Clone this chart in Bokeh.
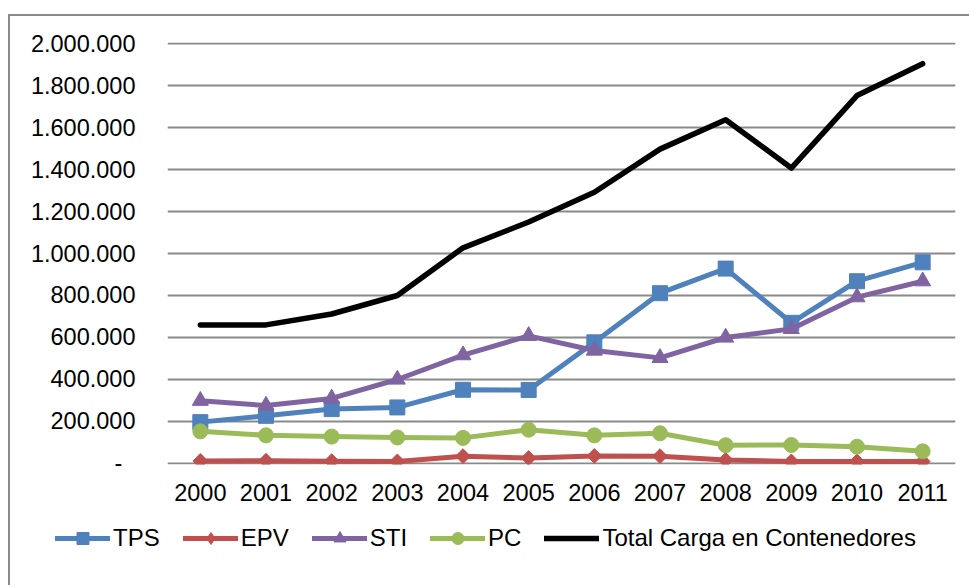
from bokeh.plotting import figure
from bokeh.models import FactorRange, Range1d, FixedTicker, Legend, LegendItem
from bokeh.embed import file_html
from bokeh.resources import INLINE

years = ["2000", "2001", "2002", "2003", "2004", "2005", "2006", "2007", "2008", "2009", "2010", "2011"]
tps = [197000, 227000, 259000, 267000, 351000, 350000, 577000, 811000, 928000, 670000, 868000, 958000]
epv = [12000, 13000, 11000, 10000, 35000, 26000, 36000, 35000, 17000, 10000, 10000, 10000]
sti = [299000, 276000, 310000, 400000, 516000, 608000, 538000, 503000, 600000, 641000, 792000, 868000]
pc = [153000, 134000, 128000, 124000, 122000, 161000, 134000, 144000, 87000, 88000, 80000, 58000]
total = [660000, 660000, 712000, 800000, 1027000, 1150000, 1292000, 1497000, 1637000, 1407000, 1752000, 1904000]

tick_values = [0, 200000, 400000, 600000, 800000, 1000000, 1200000, 1400000, 1600000, 1800000, 2000000]
tick_labels = ["-\u00a0\u00a0", "200.000", "400.000", "600.000", "800.000", "1.000.000",
               "1.200.000", "1.400.000", "1.600.000", "1.800.000", "2.000.000"]

FONT = "Liberation Sans"
FS = "23.5px"
BORDER = "2px solid #8a8a8a"

p = figure(width=961, height=494, output_backend="svg", toolbar_location=None,
           x_range=FactorRange(factors=years), y_range=Range1d(-4770, 2004770),
           min_border_left=157, min_border_right=16, min_border_top=26, min_border_bottom=46,
           margin=(14, 0, 0, 8), styles={"border-top": BORDER, "border-left": BORDER})
p.outline_line_color = None
p.background_fill_color = "white"
p.border_fill_color = "white"

p.xgrid.visible = False
p.ygrid.grid_line_color = "#8a8a8a"
p.ygrid.grid_line_width = 1.8
p.yaxis.ticker = FixedTicker(ticks=tick_values)
p.yaxis.major_label_overrides = {v: l for v, l in zip(tick_values, tick_labels)}

for ax in (p.xaxis[0], p.yaxis[0]):
    ax.axis_line_color = None
    ax.major_tick_line_color = None
    ax.minor_tick_line_color = None
    ax.major_label_text_font = FONT
    ax.major_label_text_font_size = FS
    ax.major_label_text_color = "black"
p.yaxis.major_label_standoff = 26
p.xaxis.major_label_standoff = 13

# name, values, colour, marker, size, angle, legend marker, legend size
series = [
    ("TPS", tps, "#4F81BD", "square", 15, 0.0, "square", 15),
    ("EPV", epv, "#C0504D", "square", 10.5, 0.785398, "diamond", 18),
    ("STI", sti, "#8064A2", "triangle", 16, 0.0, "triangle", 16),
    ("PC", pc, "#9BBB59", "circle", 15, 0.0, "circle", 15),
]
for name, vals, color, marker, size, angle, lmarker, lsize in series:
    p.line(years, vals, line_color=color, line_width=5, line_join="round", line_cap="round")
    p.scatter(years, vals, marker=marker, size=size, angle=angle, fill_color=color, line_color=color)
p.line(years, total, line_color="black", line_width=5.5, line_join="round", line_cap="round")

# legend strip: a second root below the chart, whose view range keeps the series out of sight,
# so only the legend is shown (it can then sit left of the plot area, as in the original)
p2 = figure(width=961, height=77, output_backend="svg", toolbar_location=None,
            x_range=FactorRange(factors=years), y_range=Range1d(3000000, 4000000),
            x_axis_type=None, y_axis_type=None,
            min_border=0, margin=(0, 0, 0, 8), styles={"border-left": BORDER})
p2.outline_line_color = None
p2.background_fill_color = "white"
p2.border_fill_color = "white"
p2.xgrid.visible = False
p2.ygrid.visible = False
items = []
for name, vals, color, marker, size, angle, lmarker, lsize in series:
    l = p2.line(years, vals, line_color=color, line_width=5, line_cap="round")
    s = p2.scatter(years, vals, marker=lmarker, size=lsize, fill_color=color, line_color=color)
    items.append(LegendItem(label=name, renderers=[l, s]))
lt = p2.line(years, total, line_color="black", line_width=5.5, line_cap="round")
items.append(LegendItem(label="Total Carga en Contenedores", renderers=[lt]))

legend = Legend(items=items, orientation="horizontal", location=(45, 32),
                glyph_width=55, glyph_height=30, label_standoff=3, spacing=23,
                padding=0, margin=0, border_line_color=None, background_fill_alpha=0,
                label_text_font=FONT, label_text_font_size="24px", label_text_color="black")
p2.add_layout(legend, "center")

open("out.html", "w").write(file_html([p, p2], INLINE))
